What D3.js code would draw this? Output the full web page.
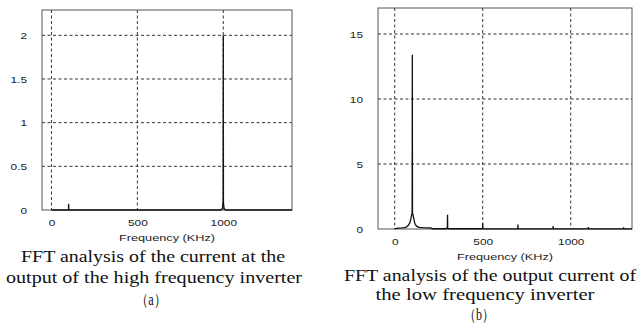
<!DOCTYPE html>
<html>
<head>
<meta charset="utf-8">
<script src="https://cdn.jsdelivr.net/npm/d3@7"></script>
<style>
  body { margin: 0; background: #fff; }
  svg { display: block; }
</style>
</head>
<body>
<script>
// spectrum (a): high frequency inverter output current
const freqA = [0, 96, 99, 100, 101, 104, 985, 992, 996, 998, 999, 1000, 1001, 1002, 1005, 1010, 1020, 1400]
const ampA  = [0, 0, 0, 0.07, 0, 0, 0, 0.01, 0.03, 0.08, 0.12, 2.0, 0.1, 0.06, 0.02, 0.005, 0, 0]

// spectrum (b): low frequency inverter output current
const freqB = [0, 20, 40, 55, 65, 75, 85, 92, 96, 99, 100, 101, 104, 108, 115, 125, 140, 160, 185, 205, 215,
  290, 296, 299, 300, 301, 305, 496, 499, 500, 501, 504, 696, 699, 700, 701, 704,
  896, 899, 900, 901, 904, 1096, 1099, 1100, 1101, 1104, 1296, 1299, 1300, 1301, 1304, 1348]
const ampB  = [0.03, 0.06, 0.08, 0.1, 0.15, 0.25, 0.45, 0.8, 1.1, 1.2, 13.4, 1.2, 1.1, 0.8, 0.4, 0.2, 0.12, 0.1, 0.09, 0.08, 0.02,
  0.02, 0.08, 0.05, 1.1, 0.05, 0.02, 0.02, 0.03, 0.45, 0.03, 0.01, 0.01, 0.01, 0.34, 0.01, 0.01,
  0.01, 0.01, 0.23, 0.01, 0.01, 0.01, 0.01, 0.15, 0.01, 0.01, 0.01, 0.01, 0.12, 0.01, 0.01, 0.01]

const xTicks = [0, 500, 1000]
const yTicksA = [0, 0.5, 1, 1.5, 2]
const yTicksB = [0, 5, 10, 15]
const axisTitle = 'Frequency (KHz)'
const captionA = ['FFT analysis of the current at the', 'output of the high frequency inverter', '（a）']
const captionB = ['FFT analysis of the output current of', 'the low frequency inverter', '（b）']

const W = 639, H = 335
const svg = d3.select('body').append('svg').attr('width', W).attr('height', H)

const SX = 1.25 // the source picture is stretched sideways

function panel(cfg) {
  const g = svg.append('g')
  const x = d3.scaleLinear().domain(cfg.xDomain).range([cfg.left, cfg.right])
  const y = d3.scaleLinear().domain(cfg.yDomain).range([cfg.bottom, cfg.top])

  // dashed grid
  g.selectAll('.vg').data(xTicks).enter().append('line')
    .attr('x1', d => x(d)).attr('x2', d => x(d))
    .attr('y1', cfg.top).attr('y2', cfg.bottom)
    .attr('stroke', '#333').attr('stroke-width', 1).attr('stroke-dasharray', '3,2.5')
  g.selectAll('.hg').data(cfg.yTicks.filter(d => d > 0)).enter().append('line')
    .attr('x1', cfg.left).attr('x2', cfg.right)
    .attr('y1', d => y(d)).attr('y2', d => y(d))
    .attr('stroke', '#333').attr('stroke-width', 1).attr('stroke-dasharray', '3,2.5')

  // frame
  g.append('rect')
    .attr('x', cfg.left).attr('y', cfg.top)
    .attr('width', cfg.right - cfg.left).attr('height', cfg.bottom - cfg.top)
    .attr('fill', 'none').attr('stroke', '#555').attr('stroke-width', 1)

  // spectrum trace
  const pts = cfg.freq.map((f, i) => [f, cfg.amp[i]])
  g.append('path')
    .datum(pts)
    .attr('d', d3.line().x(d => x(d[0])).y(d => y(d[1])))
    .attr('fill', 'none').attr('stroke', '#111').attr('stroke-width', 1.3)

  // axes (labels only, as in the source)
  const ax = g.append('g').attr('transform', `translate(0,${cfg.bottom})`)
    .call(d3.axisBottom(x).tickValues(xTicks).tickSize(0).tickPadding(0).tickFormat(d3.format('')))
  ax.select('.domain').remove()
  ax.selectAll('text')
    .attr('y', 16).attr('dy', null)
    .attr('transform', `scale(${SX},1)`)
    .attr('font-family', 'Liberation Sans, Arial, sans-serif').attr('font-size', 9.5).attr('fill', '#222')

  const ay = g.append('g').attr('transform', `translate(${cfg.left},0)`)
    .call(d3.axisLeft(y).tickValues(cfg.yTicks).tickSize(0).tickPadding(0).tickFormat(d3.format('')))
  ay.select('.domain').remove()
  ay.selectAll('text')
    .attr('x', -15 / SX).attr('dy', '0.35em')
    .attr('transform', `scale(${SX},1)`)
    .attr('font-family', 'Liberation Sans, Arial, sans-serif').attr('font-size', 9.5).attr('fill', '#222')

  g.append('text')
    .attr('x', cfg.titleX - 48).attr('y', cfg.bottom + 31)
    .attr('textLength', 96).attr('lengthAdjust', 'spacingAndGlyphs')
    .attr('font-family', 'Liberation Sans, Arial, sans-serif').attr('font-size', 9.5).attr('fill', '#222')
    .text(axisTitle)

  g.selectAll('.cap').data(cfg.caption).enter().append('text')
    .attr('x', (d, i) => cfg.capX[i] - cfg.capW[i] / 2)
    .attr('y', (d, i) => cfg.capY[i])
    .attr('textLength', (d, i) => cfg.capW[i]).attr('lengthAdjust', 'spacingAndGlyphs')
    .attr('font-family', 'Liberation Serif, Times New Roman, serif').attr('font-size', 16).attr('fill', '#111')
    .text(d => d)
}

panel({
  left: 42, right: 292, top: 10, bottom: 210,
  xDomain: [-55, 1400], yDomain: [0, 2.29],
  yTicks: yTicksA, freq: freqA, amp: ampA,
  titleX: 167,
  caption: captionA, capX: [153, 154, 151], capY: [262, 283, 305], capW: [264, 296, 30]
})

panel({
  left: 378, right: 632, top: 8, bottom: 229,
  xDomain: [-95, 1348], yDomain: [0, 17],
  yTicks: yTicksB, freq: freqB, amp: ampB,
  titleX: 505,
  caption: captionB, capX: [490, 485, 479], capY: [281, 300, 320], capW: [292, 219, 30]
})
</script>
</body>
</html>
